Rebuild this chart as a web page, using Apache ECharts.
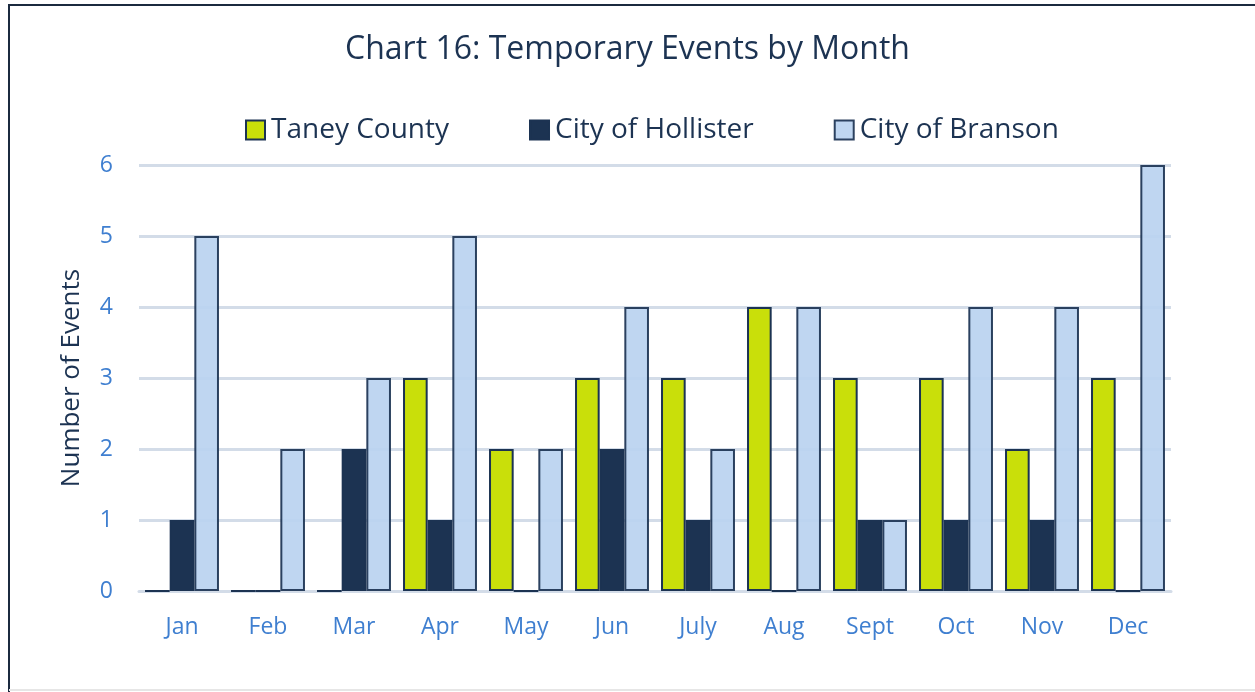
<!DOCTYPE html>
<html>
<head>
<meta charset="utf-8">
<script src="https://cdn.jsdelivr.net/npm/echarts@6/dist/echarts.min.js"></script>
<style>
  html, body { margin: 0; padding: 0; background: #fff; }
  #main { width: 1255px; height: 692px; }
</style>
</head>
<body>
<div id="main"></div>
<script>
// data
const months = ['Jan', 'Feb', 'Mar', 'Apr', 'May', 'Jun', 'July', 'Aug', 'Sept', 'Oct', 'Nov', 'Dec'];
const taney = [0, 0, 0, 3, 2, 3, 3, 4, 3, 3, 2, 3];
const hollister = [1, 0, 2, 1, 0, 2, 1, 0, 1, 1, 1, 0];
const branson = [5, 2, 3, 5, 2, 4, 2, 4, 1, 4, 4, 6];

const navy = '#1c3352';
const blueText = '#3f7fd0';

function bar(name, data, color, opacity) {
  return {
    name: name,
    type: 'bar',
    data: data,
    barGap: '0%',
    barCategoryGap: '14%',
    itemStyle: { color: color, opacity: opacity, borderColor: navy, borderWidth: 2 }
  };
}

const myChart = echarts.init(document.getElementById('main'));
const chartOpts = {
  textStyle: { fontFamily: 'Open Sans' },
  title: {
    text: 'Chart 16: Temporary Events by Month',
    left: 'center',
    top: 29,
    textStyle: { fontFamily: 'Open Sans', fontSize: 32, fontWeight: 'normal', color: navy }
  },
  legend: {
    top: 111,
    left: 240,
    itemGap: 80,
    itemWidth: 19,
    itemHeight: 19,
    icon: 'rect',
    textStyle: { fontFamily: 'Open Sans', fontSize: 28, color: navy, padding: [0, 0, 0, 1] },
    data: ['Taney County', 'City of Hollister', 'City of Branson']
  },
  grid: { left: 139, right: 84, top: 165, bottom: 101 },
  xAxis: {
    type: 'category',
    data: months,
    axisLine: { show: true, lineStyle: { color: '#d3dce8', width: 3 } },
    axisTick: { show: false },
    axisLabel: { fontFamily: 'Open Sans', fontSize: 23, color: blueText, margin: 25 }
  },
  yAxis: {
    type: 'value',
    min: 0,
    max: 6,
    interval: 1,
    name: 'Number of Events',
    nameLocation: 'middle',
    nameGap: 54,
    nameTextStyle: { fontFamily: 'Open Sans', fontSize: 26, color: navy },
    axisLine: { show: false },
    axisTick: { show: false },
    axisLabel: { fontFamily: 'Open Sans', fontSize: 23, color: blueText, margin: 26 },
    splitLine: { lineStyle: { color: '#d3dce8', width: 3 } }
  },
  graphic: [
    {
      type: 'polyline',
      shape: { points: [[9, 692], [9, 5], [1255, 5]] },
      style: { stroke: '#1b2a3f', lineWidth: 2, fill: null }
    },
    {
      type: 'line',
      shape: { x1: 9, y1: 690, x2: 1255, y2: 690 },
      style: { stroke: '#e6e6e6', lineWidth: 2 }
    }
  ],
  series: [
    bar('Taney County', taney, '#c9df0a', 1),
    bar('City of Hollister', hollister, navy, 1),
    bar('City of Branson', branson, '#bad2f0', 0.92)
  ]
};
myChart.setOption(chartOpts);
</script>
</body>
</html>
